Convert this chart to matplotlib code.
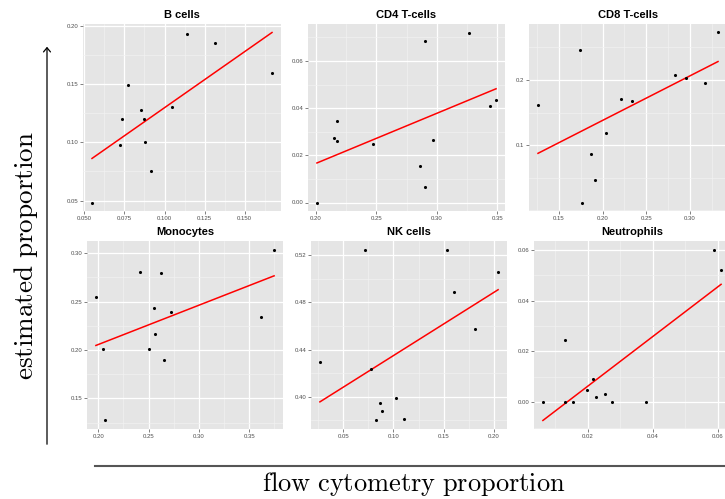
import numpy as np
import matplotlib
matplotlib.use("Agg")
import matplotlib.pyplot as plt
from matplotlib.ticker import FixedLocator, AutoMinorLocator, FormatStrFormatter
from matplotlib.patches import FancyArrowPatch
from matplotlib.lines import Line2D

plt.rcParams['mathtext.fontset'] = 'cm'
plt.rcParams['font.family'] = ['Liberation Sans', 'DejaVu Sans']

# flow cytometry proportion (x) vs estimated proportion (y)
b_x = [0.0548, 0.0721, 0.0733, 0.0773, 0.0853, 0.0870, 0.0878, 0.0918, 0.1048, 0.1143, 0.1317, 0.1670]
b_y = [0.0483, 0.0974, 0.1203, 0.1491, 0.1277, 0.1206, 0.1006, 0.0754, 0.1303, 0.1937, 0.1854, 0.1594]

cd4_x = [0.2010, 0.2151, 0.2173, 0.2179, 0.2469, 0.2858, 0.2905, 0.2902, 0.2972, 0.3268, 0.3439, 0.3489]
cd4_y = [0.0000, 0.0274, 0.0259, 0.0345, 0.0246, 0.0154, 0.0066, 0.0687, 0.0267, 0.0721, 0.0408, 0.0435]

cd8_x = [0.1261, 0.1743, 0.1766, 0.1872, 0.1910, 0.2038, 0.2209, 0.2334, 0.2827, 0.2958, 0.3178, 0.3322]
cd8_y = [0.1619, 0.2452, 0.0122, 0.0868, 0.0462, 0.1183, 0.1711, 0.1680, 0.2076, 0.2025, 0.1959, 0.2726]

mono_x = [0.1977, 0.2046, 0.2063, 0.2411, 0.2503, 0.2550, 0.2566, 0.2619, 0.2652, 0.2725, 0.3613, 0.3748]
mono_y = [0.2552, 0.2010, 0.1272, 0.2803, 0.2010, 0.2434, 0.2168, 0.2797, 0.1893, 0.2390, 0.2345, 0.3038]

nk_x = [0.0270, 0.0720, 0.0773, 0.0823, 0.0863, 0.0890, 0.1023, 0.1103, 0.1530, 0.1603, 0.1807, 0.2040]
nk_y = [0.4292, 0.5243, 0.4238, 0.3799, 0.3943, 0.3881, 0.3991, 0.3813, 0.5248, 0.4885, 0.4573, 0.5055]

neut_x = [0.00615, 0.0129, 0.0131, 0.0153, 0.0196, 0.0217, 0.0226, 0.0253, 0.0273, 0.0378, 0.0587, 0.0610]
neut_y = [0.0000, 0.0243, 0.0000, 0.0000, 0.0047, 0.0091, 0.0021, 0.0033, 0.0000, 0.0000, 0.0601, 0.0521]

titles = ['B cells', 'CD4 T-cells', 'CD8 T-cells', 'Monocytes', 'NK cells', 'Neutrophils']
xs = [b_x, cd4_x, cd8_x, mono_x, nk_x, neut_x]
ys = [b_y, cd4_y, cd8_y, mono_y, nk_y, neut_y]
xticks = [[0.050, 0.075, 0.100, 0.125, 0.150], [0.20, 0.25, 0.30, 0.35], [0.15, 0.20, 0.25, 0.30],
          [0.20, 0.25, 0.30, 0.35], [0.05, 0.10, 0.15, 0.20], [0.02, 0.04, 0.06]]
yticks = [[0.05, 0.10, 0.15, 0.20], [0.00, 0.02, 0.04, 0.06], [0.1, 0.2],
          [0.15, 0.20, 0.25, 0.30], [0.40, 0.44, 0.48, 0.52], [0.00, 0.02, 0.04, 0.06]]
xfmt = ['%.3f', '%.2f', '%.2f', '%.2f', '%.2f', '%.2f']
yfmt = ['%.2f', '%.2f', '%.1f', '%.2f', '%.2f', '%.2f']

W, H = 725, 499
# panel boxes in pixels: left, top, right, bottom
boxes = [(83, 24, 281, 211), (308, 24, 505, 211), (529, 24, 727, 211),
         (87, 241, 283, 429), (311, 241, 507, 429), (534, 241, 730, 429)]

fig = plt.figure(figsize=(W / 100, H / 100), dpi=100)


def expand(v):
    lo, hi = min(v), max(v)
    pad = (hi - lo) * 0.05
    return lo - pad, hi + pad


for i in range(6):
    l, t, r, b = boxes[i]
    ax = fig.add_axes([l / W, 1 - b / H, (r - l) / W, (b - t) / H])
    ax.set_facecolor('#E5E5E5')
    for s in ax.spines.values():
        s.set_visible(False)
    x = np.array(xs[i])
    y = np.array(ys[i])
    # lm fit, like geom_smooth(method = "lm", se = FALSE)
    k, c = np.polyfit(x, y, 1)
    xl = np.array([x.min(), x.max()])
    yl = k * xl + c
    ax.set_xlim(*expand(x))
    ax.set_ylim(*expand(np.concatenate([y, yl])))
    ax.xaxis.set_major_locator(FixedLocator(xticks[i]))
    ax.yaxis.set_major_locator(FixedLocator(yticks[i]))
    ax.xaxis.set_minor_locator(AutoMinorLocator(2))
    ax.yaxis.set_minor_locator(AutoMinorLocator(2))
    ax.xaxis.set_major_formatter(FormatStrFormatter(xfmt[i]))
    ax.yaxis.set_major_formatter(FormatStrFormatter(yfmt[i]))
    ax.grid(which='major', color='white', lw=0.9)
    ax.grid(which='minor', color='#F2F2F2', lw=0.45)
    ax.set_axisbelow(True)
    ax.tick_params(which='major', length=2, width=0.5, color='#4D4D4D',
                   labelsize=4.3, labelcolor='#4D4D4D', pad=1.5)
    ax.tick_params(which='minor', length=0)
    ax.scatter(x, y, s=5, color='black', zorder=3, linewidths=0)
    ax.plot(xl, yl, color='red', lw=1.1, zorder=2)
    ax.set_title(titles[i], fontsize=8, fontweight='bold', pad=4)

# y label with arrow
fig.text(26 / W, 1 - 256 / H, r'$\mathrm{estimated\ proportion}$', rotation=90,
         ha='center', va='center', fontsize=19.5)
arr = FancyArrowPatch((47 / W, 1 - 447 / H), (47 / W, 1 - 44 / H), transform=fig.transFigure,
                      arrowstyle='->,head_length=3,head_width=2.5', color='black', lw=0.9)
fig.add_artist(arr)

# x label with rule
fig.add_artist(Line2D([95 / W, 1.0], [1 - 466 / H, 1 - 466 / H], transform=fig.transFigure,
                      color='#555555', lw=1.5))
fig.text(414 / W, 1 - 484 / H, r'$\mathrm{flow\ cytometry\ proportion}$',
         ha='center', va='center', fontsize=19)

fig.savefig('out.png', dpi=100)
